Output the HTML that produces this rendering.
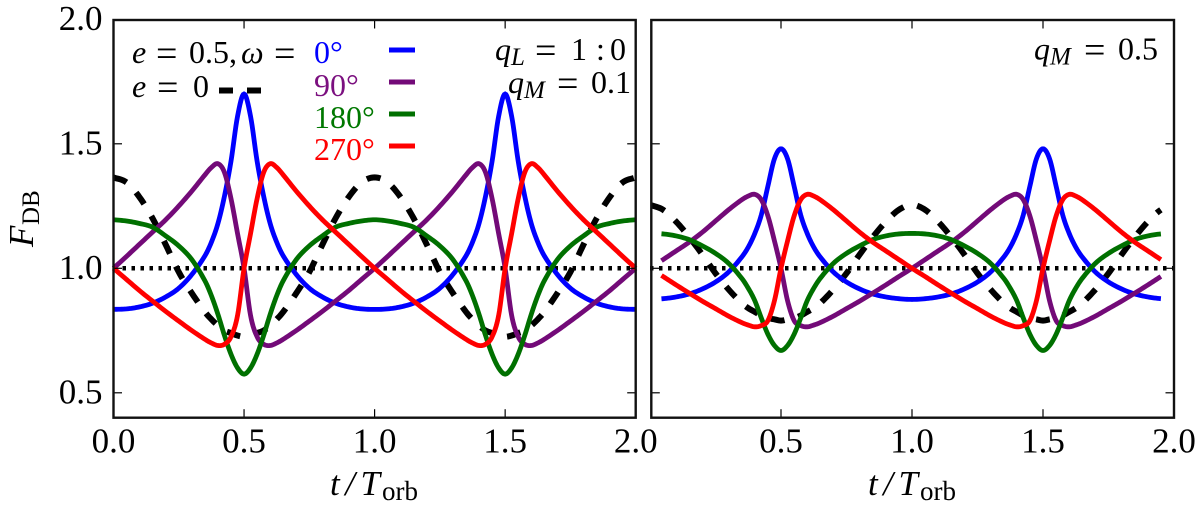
<!DOCTYPE html>
<html>
<head>
<meta charset="utf-8">
<title>Doppler beaming flux curves</title>
<style>
html,body{margin:0;padding:0;background:#fff;}
svg{display:block;}
text{font-family:"Liberation Serif","DejaVu Serif",serif;fill:#000;font-size:35px;}
.i{font-style:italic;}
.sub{font-size:27px;}
.ann{font-size:32px;}
.ann .eq,.eq{font-size:38px;transform:translateY(3px);}
.ann .msub{font-size:24px;}
</style>
</head>
<body>
<svg id="chart" xmlns="http://www.w3.org/2000/svg" width="1200" height="511" viewBox="0 0 1200 511">
  <g id="curves-left"></g>
  <g id="curves-right"></g>
  <g id="axes"></g>

  <g transform="translate(33,247) rotate(-90)">
    <text class="i" x="0" y="0">F</text>
    <text x="22" y="6" style="font-size:25px">DB</text>
  </g>
  <g>
    <text class="i" x="330" y="495" textLength="50">t/T</text>
    <text class="sub" x="382" y="500">orb</text>
  </g>
  <g>
    <text class="i" x="868" y="495" textLength="50">t/T</text>
    <text class="sub" x="920" y="500">orb</text>
  </g>

  <g>
    <text class="i ann" x="132" y="63">e</text>
    <text class="eq" x="156" y="63">=</text>
    <text class="ann" x="189" y="63">0.5,</text>
    <text class="i ann" x="241" y="63">ω</text>
    <text class="eq" x="274" y="63">=</text>
  </g>
  <g>
    <text class="i ann" x="132" y="97">e</text>
    <text class="eq" x="157" y="97">=</text>
    <text class="ann" x="193" y="97">0</text>
  </g>
  <line x1="219" y1="90.500" x2="261" y2="90.500" stroke="#000" stroke-width="6" stroke-dasharray="14 14"/>

  <text class="ann" x="314" y="63" style="fill:#0000ff">0°</text>
  <text class="ann" x="314" y="96" style="fill:#7b0f7f">90°</text>
  <text class="ann" x="314" y="128" style="fill:#007800">180°</text>
  <text class="ann" x="314" y="160" style="fill:#ff0000">270°</text>
  <line x1="389" y1="50" x2="415" y2="50" stroke="#0000ff" stroke-width="5"/>
  <line x1="389" y1="82" x2="415" y2="82" stroke="#730a78" stroke-width="5"/>
  <line x1="389" y1="114" x2="415" y2="114" stroke="#007000" stroke-width="5"/>
  <line x1="389" y1="146" x2="415" y2="146" stroke="#ff0000" stroke-width="5"/>

  <g>
    <text class="i ann" x="495" y="60">q</text>
    <text class="i msub" style="font-size:25px" x="511" y="65">L</text>
    <text class="eq" x="535" y="60">=</text>
    <text class="ann" x="571" y="60">1</text>
    <text class="ann" x="596" y="60">:</text>
    <text class="ann" x="610" y="60">0</text>
  </g>
  <g>
    <text class="i ann" x="508" y="93">q</text>
    <text class="i msub" style="font-size:25px" x="524" y="98">M</text>
    <text class="eq" x="557" y="93">=</text>
    <text class="ann" x="591" y="93">0.1</text>
  </g>
  <g>
    <text class="i ann" x="1034" y="59.500">q</text>
    <text class="i msub" style="font-size:25px" x="1050" y="64.500">M</text>
    <text class="eq" x="1084" y="59.500">=</text>
    <text class="ann" x="1118" y="59.500">0.5</text>
  </g>
</svg>
<script>
// Orbital phase grid shared by all series (one orbit; the curves repeat for two orbits)
const orbitPhase = [0,.05,.1,.15,.2,.25,.3,.35,.375,.4,.425,.45,.475,.5,.525,.55,.575,.6,.625,.65,.7,.75,.8,.85,.9,.95];

// Left panel, q_M = 0.1
const leftOmega0   = [.835,.837,.845,.86,.885,.92,.975,1.05,1.105,1.18,1.29,1.43,1.61,1.70,1.61,1.43,1.29,1.18,1.105,1.05,.975,.92,.885,.86,.845,.837];
const leftOmega90  = [1,1.048,1.097,1.146,1.195,1.25,1.31,1.375,1.405,1.42,1.385,1.28,1.14,1,.81,.725,.695,.69,.70,.715,.75,.788,.827,.868,.91,.955];
const leftOmega180 = [1.195,1.19,1.18,1.165,1.13,1.09,1.035,.95,.89,.815,.73,.655,.60,.575,.60,.655,.73,.815,.89,.95,1.035,1.09,1.13,1.165,1.18,1.19];
const leftOmega270 = [1,.955,.91,.868,.827,.788,.75,.715,.70,.69,.695,.725,.81,1,1.14,1.28,1.385,1.42,1.405,1.375,1.31,1.25,1.195,1.146,1.097,1.048];
const leftCircular = [1.365,1.345,1.285,1.2,1.095,.985,.90,.825,.795,.77,.75,.74,.73,.725,.73,.74,.75,.77,.795,.825,.90,.985,1.095,1.2,1.285,1.345];

// Right panel, q_M = 0.5
const rightOmega0   = [.875,.878,.885,.897,.917,.945,.985,1.045,1.085,1.14,1.215,1.33,1.44,1.48,1.44,1.33,1.215,1.14,1.085,1.045,.985,.945,.917,.897,.885,.878];
const rightOmega90  = [1,1.035,1.07,1.105,1.145,1.19,1.235,1.275,1.29,1.297,1.275,1.21,1.11,1,.87,.79,.77,.765,.772,.782,.808,.838,.868,.90,.933,.967];
const rightOmega180 = [1.14,1.138,1.13,1.115,1.09,1.06,1.02,.96,.92,.87,.80,.735,.69,.67,.69,.735,.80,.87,.92,.96,1.02,1.06,1.09,1.115,1.13,1.138];
const rightOmega270 = [1,.967,.933,.90,.868,.838,.808,.782,.772,.765,.77,.79,.87,1,1.11,1.21,1.275,1.297,1.29,1.275,1.235,1.19,1.145,1.105,1.07,1.035];
const rightCircular = [1.255,1.235,1.187,1.125,1.055,.98,.915,.86,.84,.825,.81,.80,.795,.79,.795,.80,.81,.825,.84,.86,.915,.98,1.055,1.125,1.187,1.235];

const orbitCount = [0,1];
const referenceLevel = [1,1];
const xTickValues = [0,.5,1,1.5,2];
const yTickValues = [.5,1,1.5,2];
const xTickLabelsLeft = ["0.0","0.5","1.0","1.5","2.0"];
const xTickLabelsRight = ["","0.5","1.0","1.5","2.0"];
const yTickLabels = ["0.5","1.0","1.5","2.0"];

const NS = "http://www.w3.org/2000/svg";
const yScale = v => 268.3 - 249 * (v - 1);
const xLeft = t => 113.5 + 261.1 * t;
const xRight = t => 650 + 262 * t;

// Expand one-orbit values across two orbits and sample a smooth Hermite curve through them
function curvePath(values, xScale, tMin, tMax) {
  const ts = [], vs = [];
  for (const k of orbitCount) {
    for (let i = 0; i < orbitPhase.length; i++) {
      ts.push(orbitPhase[i] + k);
      vs.push(values[i]);
    }
  }
  ts.push(2); vs.push(values[0]);
  const slope = i => {
    if (i <= 0) return (vs[1] - vs[0]) / (ts[1] - ts[0]);
    if (i >= ts.length - 1) return (vs[i] - vs[i - 1]) / (ts[i] - ts[i - 1]);
    return (vs[i + 1] - vs[i - 1]) / (ts[i + 1] - ts[i - 1]);
  };
  let d = "";
  for (let i = 0; i < ts.length - 1; i++) {
    const h = ts[i + 1] - ts[i], m0 = slope(i), m1 = slope(i + 1);
    for (let s = 0; s < 8; s++) {
      const u = s / 8, t = ts[i] + u * h;
      if (t < tMin || t > tMax) continue;
      const v = (2*u*u*u - 3*u*u + 1) * vs[i] + (u*u*u - 2*u*u + u) * h * m0
              + (-2*u*u*u + 3*u*u) * vs[i + 1] + (u*u*u - u*u) * h * m1;
      d += (d ? "L" : "M") + xScale(t).toFixed(2) + " " + yScale(v).toFixed(2);
    }
  }
  if (tMax >= 2) d += "L" + xScale(2).toFixed(2) + " " + yScale(vs[vs.length - 1]).toFixed(2);
  return d;
}

function addCurve(parent, name, values, xScale, tMin, tMax, color, width, dash) {
  const p = document.createElementNS(NS, "path");
  
  
  p.setAttribute("d", curvePath(values, xScale, tMin, tMax));
  p.setAttribute("fill", "none");
  p.setAttribute("stroke", color);
  p.setAttribute("stroke-width", width);
  if (dash) p.setAttribute("stroke-dasharray", dash);
  parent.appendChild(p);
}

function addReference(parent, name, xScale) {
  const l = document.createElementNS(NS, "line");
  
  
  l.setAttribute("x1", xScale(0));
  l.setAttribute("x2", xScale(2));
  l.setAttribute("y1", yScale(referenceLevel[0]));
  l.setAttribute("y2", yScale(referenceLevel[1]));
  l.setAttribute("stroke", "#000");
  l.setAttribute("stroke-width", "4.500");
  l.setAttribute("stroke-dasharray", "3.500 5.500");
  parent.appendChild(l);
}

const BLUE = "#0000ff", PURPLE = "#730a78", GREEN = "#007000", RED = "#ff0000";
const gL = document.getElementById("curves-left");
addReference(gL, "reference-line-left", xLeft);
addCurve(gL, "circular-curve-left", leftCircular, xLeft, 0, 2, "#000", 6, "14 14");
addCurve(gL, "omega-0-curve-left", leftOmega0, xLeft, 0, 2, BLUE, 4.8);
addCurve(gL, "omega-90-curve-left", leftOmega90, xLeft, 0, 2, PURPLE, 4.8);
addCurve(gL, "omega-180-curve-left", leftOmega180, xLeft, 0, 2, GREEN, 4.8);
addCurve(gL, "omega-270-curve-left", leftOmega270, xLeft, 0, 2, RED, 4.8);

const gR = document.getElementById("curves-right");
addReference(gR, "reference-line-right", xRight);
addCurve(gR, "circular-curve-right", rightCircular, xRight, 0.005, 1.955, "#000", 6, "14 14");
addCurve(gR, "omega-0-curve-right", rightOmega0, xRight, 0.04, 1.955, BLUE, 4.8);
addCurve(gR, "omega-90-curve-right", rightOmega90, xRight, 0.04, 1.955, PURPLE, 4.8);
addCurve(gR, "omega-180-curve-right", rightOmega180, xRight, 0.04, 1.955, GREEN, 4.8);
addCurve(gR, "omega-270-curve-right", rightOmega270, xRight, 0.04, 1.955, RED, 4.8);

const axes = document.getElementById("axes");

function addTick(x1, y1, x2, y2) {
  const l = document.createElementNS(NS, "line");
  
  
  l.setAttribute("x1", x1); l.setAttribute("y1", y1);
  l.setAttribute("x2", x2); l.setAttribute("y2", y2);
  l.setAttribute("stroke", "#000");
  l.setAttribute("stroke-width", "1.200");
  axes.appendChild(l);
}

function addTickLabel(x, y, str, anchor) {
  const t = document.createElementNS(NS, "text");
  
  
  t.setAttribute("x", x);
  t.setAttribute("y", y);
  t.setAttribute("text-anchor", anchor);
  t.textContent = str;
  axes.appendChild(t);
}

function addPanel(name, left, right, xScale, xLabels, showY) {
  const top = 20, bottom = 417.7;
  xTickValues.forEach((v, i) => {
    const x = xScale(v);
    if (v > 0 && v < 2) {
      addTick(x, bottom, x, bottom - 8.5);
      addTick(x, top, x, top + 8.5);
    }
    if (xLabels[i]) addTickLabel(x, 452.7, xLabels[i], "middle");
  });
  yTickValues.forEach((v, i) => {
    const y = yScale(v);
    if (v < 2) {
      addTick(left, y, left + 8.5, y);
      addTick(right, y, right - 8.5, y);
    }
    if (showY) addTickLabel(102.5, y + 10.5, yTickLabels[i], "end");
  });
  const r = document.createElementNS(NS, "rect");
  
  
  r.setAttribute("x", left);
  r.setAttribute("y", top);
  r.setAttribute("width", right - left);
  r.setAttribute("height", bottom - top);
  r.setAttribute("fill", "none");
  r.setAttribute("stroke", "#111");
  r.setAttribute("stroke-width", "2.400");
  axes.appendChild(r);
}

addPanel("left-panel-frame", 113.5, 635.7, xLeft, xTickLabelsLeft, true);
addPanel("right-panel-frame", 651.3, 1174, xRight, xTickLabelsRight, false);
</script>
</body>
</html>
